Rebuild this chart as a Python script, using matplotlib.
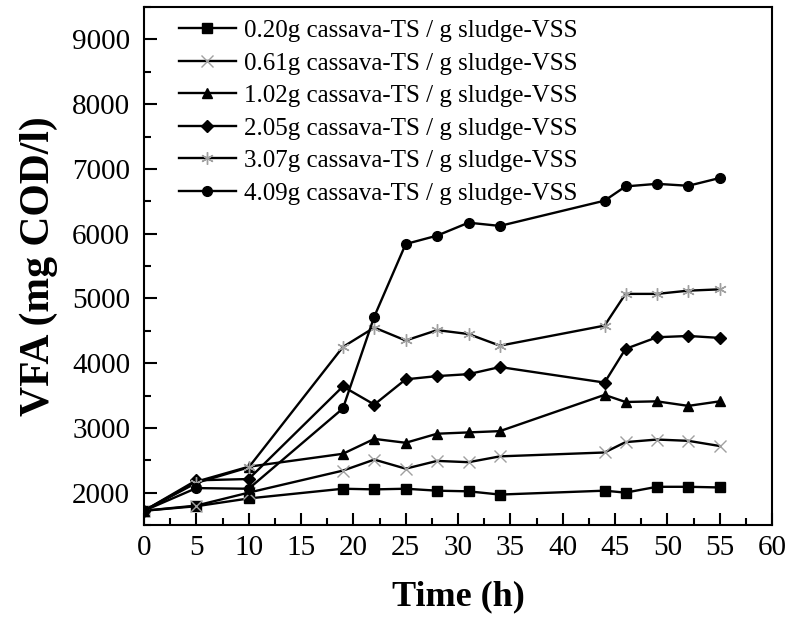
import matplotlib
matplotlib.use("Agg")
import matplotlib.pyplot as plt
from matplotlib.ticker import MultipleLocator

# sampling times (h)
time_h = [0, 5, 10, 19, 22, 25, 28, 31, 34, 44, 46, 49, 52, 55]

# VFA (mg COD/l) for each cassava / sludge ratio
vfa_020 = [1720, 1790, 1910, 2060, 2050, 2060, 2030, 2020, 1970, 2030, 2000, 2090, 2090, 2080]
vfa_061 = [1720, 1800, 2000, 2340, 2510, 2370, 2490, 2470, 2560, 2620, 2780, 2820, 2800, 2720]
vfa_102 = [1720, 2170, 2400, 2600, 2830, 2770, 2910, 2930, 2950, 3510, 3400, 3410, 3340, 3410]
vfa_205 = [1720, 2190, 2210, 3640, 3360, 3750, 3800, 3830, 3940, 3700, 4220, 4400, 4420, 4390]
vfa_307 = [1720, 2150, 2390, 4250, 4550, 4350, 4510, 4450, 4270, 4580, 5070, 5070, 5120, 5140]
vfa_409 = [1720, 2070, 2060, 3300, 4720, 5840, 5970, 6170, 6120, 6510, 6730, 6770, 6740, 6860]

labels = ["0.20g cassava-TS / g sludge-VSS",
          "0.61g cassava-TS / g sludge-VSS",
          "1.02g cassava-TS / g sludge-VSS",
          "2.05g cassava-TS / g sludge-VSS",
          "3.07g cassava-TS / g sludge-VSS",
          "4.09g cassava-TS / g sludge-VSS"]

plt.rcParams['font.family'] = ['Liberation Serif', 'DejaVu Serif']

fig = plt.figure(figsize=(7.87, 6.18), dpi=100)
ax = fig.add_axes([0.183, 0.1505, 0.798, 0.838])

lw = 1.7
ax.plot(time_h, vfa_020, color='black', lw=lw, marker='s', ms=6.5, label=labels[0])
ax.plot(time_h, vfa_061, color='black', lw=lw, marker='x', ms=8, mec='#a0a0a0', mew=1.0, label=labels[1])
ax.plot(time_h, vfa_102, color='black', lw=lw, marker='^', ms=7.5, label=labels[2])
ax.plot(time_h, vfa_205, color='black', lw=lw, marker='D', ms=6.5, label=labels[3])
ax.plot(time_h, vfa_307, color='black', lw=lw, marker=(6, 2, 0), ms=9, mec='#a0a0a0', mew=1.0, label=labels[4])
ax.plot(time_h, vfa_409, color='black', lw=lw, marker='o', ms=7, label=labels[5])

ax.set_xlim(0, 60)
ax.set_ylim(1500, 9500)
ax.xaxis.set_major_locator(MultipleLocator(5))
ax.xaxis.set_minor_locator(MultipleLocator(2.5))
ax.yaxis.set_minor_locator(MultipleLocator(500))
ax.set_yticks(range(2000, 9001, 1000))

ax.tick_params(which='both', direction='in', width=1.5, labelsize=21)
ax.tick_params(which='major', length=9)
ax.tick_params(which='minor', length=5)
ax.tick_params(axis='x', pad=7)
ax.tick_params(axis='y', pad=10)
for s in ax.spines.values():
    s.set_linewidth(1.5)

ax.set_xlabel('Time (h)', fontsize=26, fontweight='bold', labelpad=14)
ax.set_ylabel('VFA (mg COD/l)', fontsize=30, fontweight='bold', labelpad=10)

ax.legend(loc='upper left', bbox_to_anchor=(0.035, 1.0), frameon=False, fontsize=18,
          handlelength=2.3, handletextpad=0.3, labelspacing=0.4, borderaxespad=0.1)

fig.savefig('out.png', dpi=100)
